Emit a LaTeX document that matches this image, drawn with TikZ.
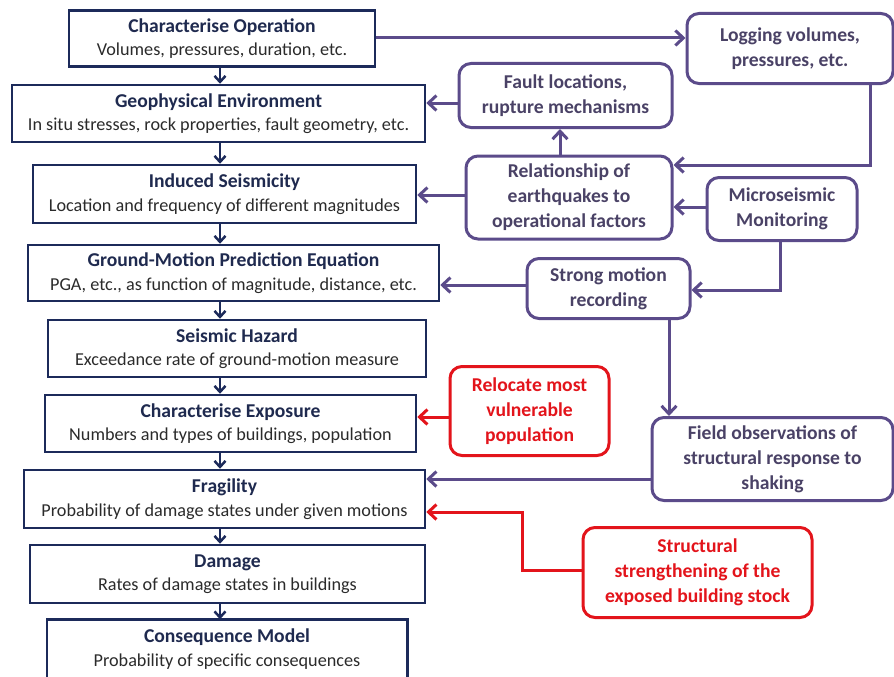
\documentclass[tikz,border=0pt]{standalone}
\usepackage{fontspec}
\setmainfont{Carlito}
\usetikzlibrary{arrows.meta}
\definecolor{navy}{HTML}{1C2A5A}
\definecolor{navytext}{HTML}{1F2A4F}
\definecolor{subtext}{HTML}{2B2B2B}
\definecolor{purp}{HTML}{5B4B8A}
\definecolor{purptext}{HTML}{4A4266}
\definecolor{redc}{HTML}{E3141B}
\tikzset{
  mainbox/.style={draw=navy, line width=2.5pt, fill=white, inner sep=0pt, align=center,
    font=\fontsize{18.2}{23.5}\selectfont, text=subtext},
  sidebox/.style={draw=purp, line width=3pt, rounded corners=12pt, fill=white, inner sep=0pt,
    align=center, font=\fontsize{19.6}{25}\selectfont\bfseries, text=purptext},
  redbox/.style={draw=redc, line width=3pt, rounded corners=12pt, fill=white, inner sep=0pt,
    align=center, font=\fontsize{19.6}{25}\selectfont\bfseries, text=redc},
  downarr/.style={draw=navy, line width=2.5pt, -{Straight Barb[length=6pt,width=11pt]}},
  parr/.style={draw=purp, line width=3pt, -{Straight Barb[length=8pt,width=15pt]}},
  rarr/.style={draw=redc, line width=3pt, -{Straight Barb[length=8pt,width=15pt]}},
}
\newcommand{\ttl}[1]{{\fontsize{19.6}{23.5}\selectfont\bfseries\color{navytext}#1}}
\begin{document}
\begin{tikzpicture}[x=1pt,y=-1pt]
\useasboundingbox (0,0) rectangle (894,677);
% main chain
\node[mainbox, minimum width=306pt, minimum height=56pt] (op) at (222,38.5)
  {\ttl{Characterise Operation}\\Volumes, pressures, duration, etc.};
\node[mainbox, minimum width=413pt, minimum height=57pt] (geo) at (218.5,113.5)
  {\ttl{Geophysical Environment}\\In situ stresses, rock properties, fault geometry, etc.};
\node[mainbox, minimum width=383pt, minimum height=58pt] (ind) at (224.5,194)
  {\ttl{Induced Seismicity}\\Location and frequency of different magnitudes};
\node[mainbox, minimum width=411pt, minimum height=56pt] (gmpe) at (233.5,273)
  {\ttl{Ground-Motion Prediction Equation}\\PGA, etc., as function of magnitude, distance, etc.};
\node[mainbox, minimum width=378pt, minimum height=57pt] (haz) at (237,348.5)
  {\ttl{Seismic Hazard}\\Exceedance rate of ground-motion measure};
\node[mainbox, minimum width=371pt, minimum height=57pt] (exp) at (230.5,423.5)
  {\ttl{Characterise Exposure}\\Numbers and types of buildings, population};
\node[mainbox, minimum width=401pt, minimum height=58pt] (frag) at (224.5,499)
  {\ttl{Fragility}\\Probability of damage states under given motions};
\node[mainbox, minimum width=395pt, minimum height=58pt] (dam) at (227.5,574)
  {\ttl{Damage}\\Rates of damage states in buildings};
\node[mainbox, draw=none, minimum width=358pt, minimum height=57pt] (cons) at (227,649)
  {\ttl{Consequence Model}\\Probability of specific consequences};
\draw[navy, line width=2.5pt] ([yshift=-12pt]cons.south west) -- (cons.north west)
  -- (cons.north east) -- ([yshift=-12pt]cons.south east);
% side boxes
\node[sidebox, minimum width=206pt, minimum height=70pt] (log) at (790,48.5)
  {Logging volumes,\\pressures, etc.};
\node[sidebox, minimum width=213pt, minimum height=64pt] (fault) at (565.5,95.5)
  {Fault locations,\\rupture mechanisms};
\node[sidebox, minimum width=206pt, minimum height=83pt] (rel) at (569,197.5)
  {Relationship of\\earthquakes to\\operational factors};
\node[sidebox, minimum width=150pt, minimum height=63pt] (micro) at (782,209)
  {Microseismic\\Monitoring};
\node[sidebox, minimum width=163pt, minimum height=60pt] (strong) at (608.5,288.5)
  {Strong motion\\recording};
\node[redbox, minimum width=159pt, minimum height=89pt] (reloc) at (529.5,411)
  {Relocate most\\vulnerable\\population};
\node[sidebox, minimum width=241pt, minimum height=83pt] (field) at (772.5,459)
  {Field observations of\\structural response to\\shaking};
\node[redbox, minimum width=229pt, minimum height=90pt] (struct) at (697.5,572.5)
  {Structural\\strengthening of the\\exposed building stock};
% spine arrows
\coordinate (sp) at (220,0);
\foreach \a/\b in {op/geo, geo/ind, ind/gmpe, gmpe/haz, haz/exp, exp/frag, frag/dam, dam/cons}
  \draw[downarr] (sp |- \a.south) -- (sp |- \b.north);
% bend points
\coordinate (b1) at (870,165);
\coordinate (b2) at (522,512);
\coordinate (xr) at (560,0);
\coordinate (xs) at (669,0);
% purple connectors
\draw[parr] (op.east |- 0,38) -- (log.west |- 0,38);
\draw[parr] (log.south -| b1) -- (b1) -- (b1 -| rel.east);
\draw[parr] (fault.west |- 0,103) -- (geo.east |- 0,103);
\draw[parr] (xr |- rel.north) -- (xr |- fault.south);
\draw[parr] (rel.west |- 0,195) -- (ind.east |- 0,195);
\draw[parr] (micro.west |- 0,207) -- (rel.east |- 0,207);
\draw[parr] (micro.south -| 780,0) |- (strong.east |- 0,290);
\draw[parr] (strong.west |- 0,285) -- (gmpe.east |- 0,285);
\draw[parr] (xs |- strong.south) -- (xs |- field.north);
\draw[parr] (field.west |- 0,479) -- (frag.east |- 0,479);
% red connectors
\draw[rarr] (reloc.west |- 0,417) -- (exp.east |- 0,417);
\draw[rarr] (struct.west |- 0,570) -| (b2) -- (b2 -| frag.east);
\end{tikzpicture}
\end{document}
